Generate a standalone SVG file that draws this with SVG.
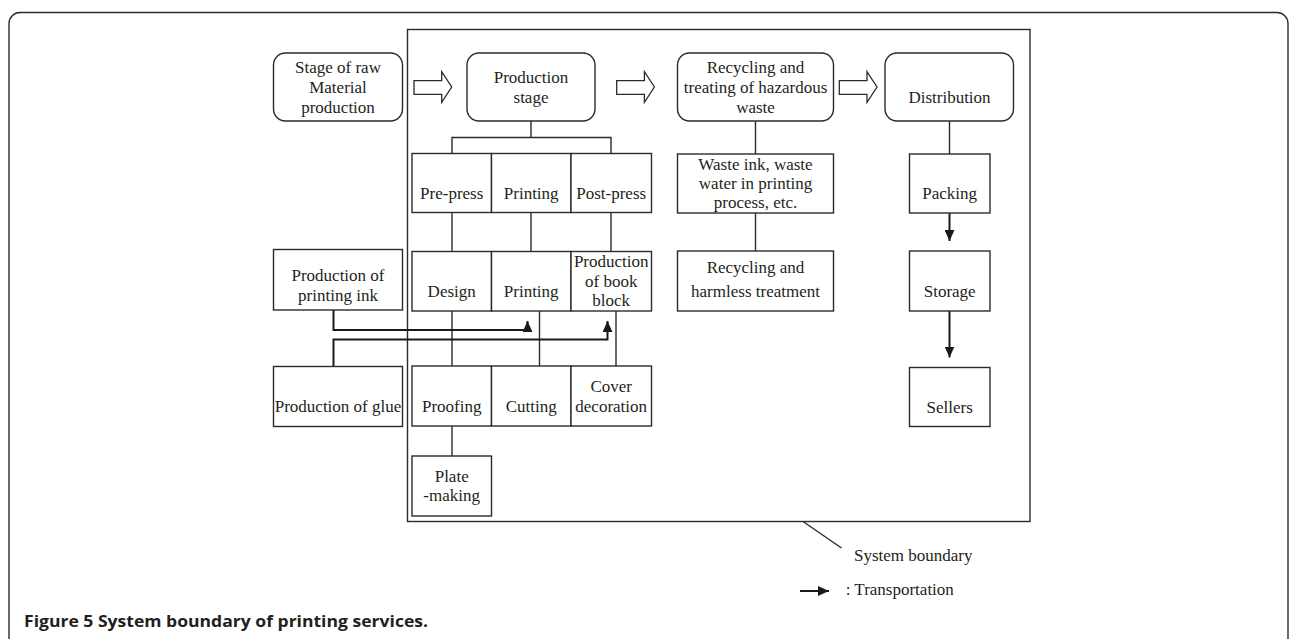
<svg xmlns="http://www.w3.org/2000/svg" width="1290" height="639" viewBox="0 0 1290 639">
<style>
.b{fill:#fff;stroke:#2b2b2b;stroke-width:1.4}
.c{fill:none;stroke:#2b2b2b;stroke-width:1.4}
.a{fill:none;stroke:#1a1a1a;stroke-width:2}
.h{fill:#fff;stroke:#2b2b2b;stroke-width:1.3;stroke-linejoin:miter}
text{font-family:"Liberation Serif","Times New Roman",serif;font-size:17px;fill:#231f20}
.m{text-anchor:middle}
.cap{font-family:"Open Sans","Liberation Sans",Arial,sans-serif;font-weight:bold;font-size:16.5px}
</style>
<defs>
<marker id="ar" viewBox="0 0 11 10" refX="11" refY="5" markerWidth="11" markerHeight="10" markerUnits="userSpaceOnUse" orient="auto">
<path d="M0,0 L11,5 L0,10 Z" fill="#1a1a1a"/>
</marker>
</defs>
<rect width="1290" height="639" fill="#fff"/>
<rect id="frame" x="9" y="12.5" width="1279" height="660" rx="11" fill="none" stroke="#2b2b2b" stroke-width="1.4"/>
<g id="system-boundary">
<rect x="407.5" y="29.5" width="622.5" height="492" class="c"/>
<path d="M803 521.5 L841.5 548" class="c" stroke-width="1"/>
<text x="854" y="561">System boundary</text>
</g>
<g id="connectors">
<path class="c" d="M531 121 V137.5 M452 153.5 V137.5 H611 V153.5"/>
<path class="c" d="M452 212.5 V251.5 M531 212.5 V251.5 M611 212.5 V251.5"/>
<path class="c" d="M452 311 V366 M539.5 311 V366 M616 311 V366"/>
<path class="c" d="M452 426 V456"/>
<path class="c" d="M755.5 121 V154 M755.5 213 V251"/>
<path class="c" d="M949.5 121 V154"/>
<path class="a" d="M333.5 310 V330 H527.5 V321" marker-end="url(#ar)"/>
<path class="a" d="M333.5 366.5 V339.5 H607.5 V321" marker-end="url(#ar)"/>
<path class="a" d="M949.5 213 V241" marker-end="url(#ar)"/>
<path class="a" d="M949.5 311 V357.5" marker-end="url(#ar)"/>
<polygon class="h" points="414,80.7 441.7,80.7 441.7,71.7 451.7,87 441.7,102.3 441.7,94.3 414,94.3"/>
<polygon class="h" points="616.7,80.7 644.4,80.7 644.4,71.7 654.4,87 644.4,102.3 644.4,94.3 616.7,94.3"/>
<polygon class="h" points="839.3,80.7 867,80.7 867,71.7 877,87 867,102.3 867,94.3 839.3,94.3"/>
</g>
<g id="raw"><rect class="b" x="273.5" y="53" width="129" height="68" rx="12"/>
<text class="m" x="338" y="73.3">Stage of raw</text><text class="m" x="338" y="93.3">Material</text><text class="m" x="338" y="112.7">production</text></g>
<g id="production"><rect class="b" x="467" y="53" width="128" height="68" rx="12"/>
<text class="m" x="531" y="83.3">Production</text><text class="m" x="531" y="103.3">stage</text></g>
<g id="recycling"><rect class="b" x="677.5" y="53" width="156" height="68" rx="12"/>
<text class="m" x="755.5" y="73.3">Recycling and</text><text class="m" x="755.5" y="93.3">treating of hazardous</text><text class="m" x="755.5" y="112.7">waste</text></g>
<g id="distribution"><rect class="b" x="885" y="53" width="128.5" height="68" rx="12"/>
<text class="m" x="949.5" y="103.3">Distribution</text></g>
<g id="prepress"><rect class="b" x="412" y="153.5" width="79.5" height="59"/><text class="m" x="451.7" y="199.3">Pre-press</text></g>
<g id="printing1"><rect class="b" x="491.5" y="153.5" width="79.5" height="59"/><text class="m" x="531.2" y="199.3">Printing</text></g>
<g id="postpress"><rect class="b" x="571" y="153.5" width="80.5" height="59"/><text class="m" x="611.2" y="199.3">Post-press</text></g>
<g id="design"><rect class="b" x="412" y="251.5" width="79.5" height="59.5"/><text class="m" x="451.7" y="296.7">Design</text></g>
<g id="printing2"><rect class="b" x="491.5" y="251.5" width="79.5" height="59.5"/><text class="m" x="531.2" y="296.7">Printing</text></g>
<g id="bookblock"><rect class="b" x="571" y="251.5" width="80.5" height="59.5"/>
<text class="m" x="611.2" y="267.3">Production</text><text class="m" x="611.2" y="287">of book</text><text class="m" x="611.2" y="305.5">block</text></g>
<g id="proofing"><rect class="b" x="412" y="366" width="79.5" height="60"/><text class="m" x="451.7" y="411.7">Proofing</text></g>
<g id="cutting"><rect class="b" x="491.5" y="366" width="79.5" height="60"/><text class="m" x="531.2" y="411.7">Cutting</text></g>
<g id="cover"><rect class="b" x="571" y="366" width="80.5" height="60"/>
<text class="m" x="611.2" y="391.7">Cover</text><text class="m" x="611.2" y="411.7">decoration</text></g>
<g id="plate"><rect class="b" x="412" y="456" width="79.5" height="60"/>
<text class="m" x="451.7" y="481.7">Plate</text><text class="m" x="451.7" y="501">-making</text></g>
<g id="ink"><rect class="b" x="273.5" y="249.5" width="129" height="60.5"/>
<text class="m" x="338" y="280.7">Production of</text><text class="m" x="338" y="301">printing ink</text></g>
<g id="glue"><rect class="b" x="273.5" y="366.5" width="129" height="60"/>
<text class="m" x="338" y="411.7">Production of glue</text></g>
<g id="waste"><rect class="b" x="677.5" y="154" width="156" height="59"/>
<text class="m" x="755.5" y="170">Waste ink, waste</text><text class="m" x="755.5" y="189.3">water in printing</text><text class="m" x="755.5" y="208.3">process, etc.</text></g>
<g id="harmless"><rect class="b" x="677.5" y="251" width="156" height="60"/>
<text class="m" x="755.5" y="273.3">Recycling and</text><text class="m" x="755.5" y="296.7">harmless treatment</text></g>
<g id="packing"><rect class="b" x="909.5" y="154" width="80.5" height="59"/><text class="m" x="949.7" y="199.3">Packing</text></g>
<g id="storage"><rect class="b" x="909.5" y="251" width="80.5" height="60"/><text class="m" x="949.7" y="296.7">Storage</text></g>
<g id="sellers"><rect class="b" x="909.5" y="367.5" width="80.5" height="59"/><text class="m" x="949.7" y="412.7">Sellers</text></g>
<g id="legend">
<path class="a" d="M800 591 H829" marker-end="url(#ar)"/>
<text x="845.7" y="594.5">: Transportation</text>
</g>
<text class="cap" x="24" y="627" textLength="404" lengthAdjust="spacingAndGlyphs">Figure 5 System boundary of printing services.</text>
</svg>
